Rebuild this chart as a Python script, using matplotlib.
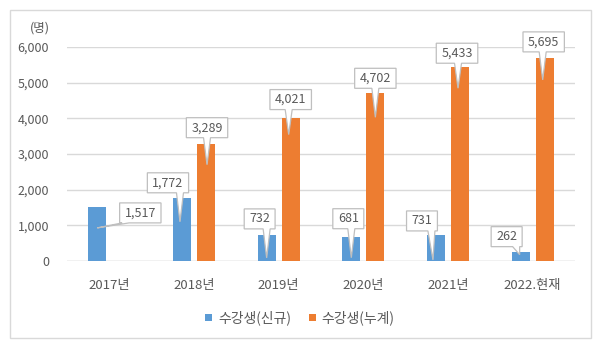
import numpy as np
import matplotlib
matplotlib.use("Agg")
import matplotlib.pyplot as plt
from matplotlib.patches import Polygon, Rectangle
from matplotlib.transforms import IdentityTransform

plt.rcParams['font.family'] = ['Noto Sans CJK KR', 'DejaVu Sans']

# ---- data ----
categories = ['2017년', '2018년', '2019년', '2020년', '2021년', '2022.현재']
new_students = [1517, 1772, 732, 681, 731, 262]
total_students = [np.nan, 3289, 4021, 4702, 5433, 5695]
series_names = ['수강생(신규)', '수강생(누계)']
y_ticks = [0, 1000, 2000, 3000, 4000, 5000, 6000]

# callout placement (pixels): box centre offset and pointer tip offset from bar top
new_box_off = [(43, -6), (-14, 15), (-7, 16), (-3, 18), (-14, 14), (-14, 15)]
new_tip_off = [(0, -21), (-2, -24), (0, -23), (0, -21), (-3, -25), (-1, -3)]
tot_box_off = [None, (1, 16), (0, 18), (0, 15), (-3, 14), (-1, 16)]
tot_tip_off = [None, (1, -21), (-2, -17), (0, -24), (-2, -21), (-2, -22)]

BLUE = '#5B9BD5'
ORANGE = '#ED7D31'
TXT = '#595959'
GRID = '#d9d9d9'

fig = plt.figure(figsize=(6, 3.47), dpi=100)
ax = fig.add_axes([67 / 600, 1 - 261 / 347, 508 / 600, 214 / 347])

x = np.arange(len(categories))
w = 0.215
off = 0.142
b1 = ax.bar(x - off, new_students, w, color=BLUE, label=series_names[0], zorder=2)
b2 = ax.bar(x + off, total_students, w, color=ORANGE, label=series_names[1], zorder=2)

ax.set_xlim(-0.5, len(categories) - 0.5)
ax.set_ylim(0, 6000)
ax.set_yticks(y_ticks)
ax.set_yticklabels([f'{v:,}' for v in y_ticks])
ax.set_xticks(x)
ax.set_xticklabels(categories)
ax.tick_params(axis='both', length=0, colors=TXT, labelsize=9)
ax.tick_params(axis='x', labelsize=9.5, pad=13)
ax.tick_params(axis='y', pad=13)
ax.grid(axis='y', color=GRID, linewidth=1, zorder=0)
for s in ax.spines.values():
    s.set_visible(False)
ax.axhline(0, color=GRID, linewidth=1, zorder=1)

fig.text(40 / 600, 1 - 28 / 347, '(명)', ha='center', va='center', fontsize=9, color=TXT)

leg = fig.legend(handles=[b1, b2], labels=series_names, loc='center',
                 bbox_to_anchor=(0.5, 1 - 318 / 347), ncol=2, frameon=False,
                 fontsize=10, handlelength=0.5, handleheight=0.5, handletextpad=0.4,
                 columnspacing=1.3, labelcolor=TXT)

# outer frame of the chart
fig.add_artist(Rectangle((10 / 600, 1 - 338 / 347), 581 / 600, 328 / 347,
                         transform=fig.transFigure, fill=False,
                         edgecolor=GRID, linewidth=1))

fig.canvas.draw()
renderer = fig.canvas.get_renderer()


def callout(xd, yd, text, box_off, tip_off):
    px, py = ax.transData.transform((xd, yd))
    cx, cy = px + box_off[0], py + box_off[1]
    t = ax.text(cx, cy, text, transform=IdentityTransform(), ha='center', va='center',
                fontsize=9, color=TXT, zorder=6, clip_on=False)
    ext = t.get_window_extent(renderer)
    hw = ext.width / 2 + 5
    hh = 10
    left, right, bottom, top = cx - hw, cx + hw, cy - hh, cy + hh
    tx, ty = px + tip_off[0], py + tip_off[1]
    bc = min(max(tx, left + 6), right - 6)
    verts = [(left, top), (right, top), (right, bottom), (bc + 3.5, bottom),
             (tx, ty), (bc - 3.5, bottom), (left, bottom)]
    poly = Polygon(verts, closed=True, facecolor='white', edgecolor='#bfbfbf',
                   linewidth=0.9, transform=IdentityTransform(), zorder=5,
                   clip_on=False)
    ax.add_artist(poly)


for i in range(len(categories)):
    callout(x[i] - off, new_students[i], f'{new_students[i]:,}', new_box_off[i], new_tip_off[i])
    if not np.isnan(total_students[i]):
        callout(x[i] + off, total_students[i], f'{int(total_students[i]):,}',
                tot_box_off[i], tot_tip_off[i])

fig.savefig('out.png', dpi=100)
